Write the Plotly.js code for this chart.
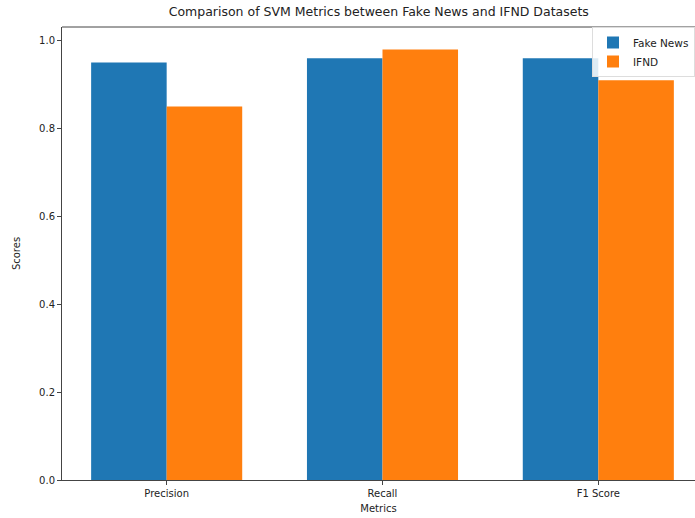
<!DOCTYPE html>
<html>
<head>
<meta charset="utf-8">
<script src="https://cdn.plot.ly/plotly-3.0.1.min.js"></script>
<style>html,body{margin:0;padding:0;background:#fff;}#chart{width:695px;height:518px;}</style>
</head>
<body>
<div id="chart"></div>
<script>
const metrics = ["Precision", "Recall", "F1 Score"];
const fakeNewsScores = [0.95, 0.96, 0.96];
const ifndScores = [0.85, 0.98, 0.91];
const yTickValues = [0.0, 0.2, 0.4, 0.6, 0.8, 1.0];
const yTickLabels = ["0.0", "0.2", "0.4", "0.6", "0.8", "1.0"];

const font = "DejaVu Sans, sans-serif";
const traces = [
  {type: "bar", name: "Fake News", x: metrics, y: fakeNewsScores, marker: {color: "#1f77b4", line: {width: 0}}},
  {type: "bar", name: "IFND", x: metrics, y: ifndScores, marker: {color: "#ff7f0e", line: {width: 0}}}
];
const layout = {
  width: 695, height: 518,
  margin: {l: 62, r: 0, t: 27, b: 38},
  paper_bgcolor: "#fff", plot_bgcolor: "#fff",
  font: {family: font, size: 10, color: "#222"},
  barmode: "group", bargap: 0.3, bargroupgap: 0,
  title: {text: "Comparison of SVM Metrics between Fake News and IFND Datasets",
          font: {family: font, size: 12.5, color: "#222"}, x: 0.545, xanchor: "center", y: 0.978, yanchor: "middle"},
  xaxis: {range: [-0.485, 2.448], showgrid: false, zeroline: false,
          showline: true, linecolor: "#444", linewidth: 1, mirror: false,
          ticks: "outside", ticklen: 4, tickcolor: "#444",
          tickfont: {family: font, size: 10, color: "#222"},
          title: {text: "Metrics", font: {family: font, size: 10, color: "#222"}, standoff: 6}},
  yaxis: {range: [0, 1.031], tickvals: yTickValues, ticktext: yTickLabels,
          showgrid: false, zeroline: false, showline: true, linecolor: "#444", linewidth: 1,
          ticks: "outside", ticklen: 4, tickcolor: "#444",
          tickfont: {family: font, size: 10, color: "#222"},
          title: {text: "Scores", font: {family: font, size: 10, color: "#222"}, standoff: 16}},
  legend: {x: 1, xanchor: "right", y: 1.0, yanchor: "top",
           bgcolor: "rgba(255,255,255,0.85)", bordercolor: "#ddd", borderwidth: 1,
           font: {family: font, size: 10.5, color: "#222"}},
  shapes: [{type: "line", xref: "paper", yref: "paper", x0: 0, x1: 1, y0: 1, y1: 1,
            line: {color: "#444", width: 1}}],
  showlegend: true
};
Plotly.newPlot("chart", traces, layout, {displayModeBar: false, staticPlot: true});
</script>
</body>
</html>
